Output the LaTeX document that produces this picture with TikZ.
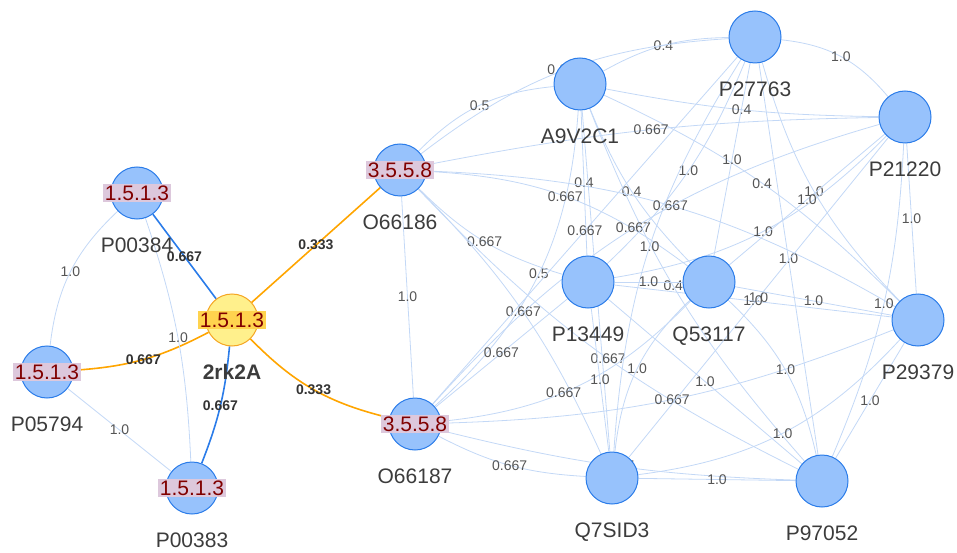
\documentclass[tikz,border=0pt]{standalone}
\usepackage{fontspec}
\setmainfont{Liberation Sans}
\usetikzlibrary{backgrounds}

\definecolor{nodefill}{HTML}{97C2FC}
\definecolor{nodeline}{HTML}{2B7CE9}
\definecolor{edgelight}{HTML}{C3D8F6}
\definecolor{edgeblue}{HTML}{2B7CE9}
\definecolor{edgeorange}{HTML}{FFA500}
\definecolor{ecbg}{HTML}{DDC8DC}
\definecolor{ecred}{HTML}{800000}
\definecolor{seedfill}{HTML}{FFF08C}
\definecolor{seedline}{HTML}{F5A623}
\definecolor{seedbg}{HTML}{FFD34E}
\definecolor{labelgray}{HTML}{555555}
\definecolor{namegray}{HTML}{3C3C3C}

\tikzset{
  prot/.style={circle, draw=nodeline, fill=nodefill, line width=1pt,
    minimum size=52pt, inner sep=0pt},
  seed/.style={prot, draw=seedline, fill=seedfill},
  nm/.style={font=\fontsize{21}{25}\selectfont, text=namegray, inner sep=0pt, yshift=-18pt},
  ec/.style={fill=ecbg, text=ecred, font=\fontsize{21}{25}\selectfont, inner sep=1.5pt},
  ecseed/.style={ec, fill=seedbg},
  link/.style={draw=edgelight, line width=0.8pt},
  blink/.style={draw=edgeblue, line width=1.6pt},
  olink/.style={draw=edgeorange, line width=1.6pt},
  el/.style={font=\fontsize{14}{16}\selectfont, text=labelgray, inner sep=1pt},
  elb/.style={el, font=\fontsize{14}{16}\selectfont\bfseries, text=black!80},
}

\begin{document}
\begin{tikzpicture}[x=1pt, y=1pt]
    \useasboundingbox (0,0) rectangle (957,-553);

    % Proteins
    \node[prot, label={[nm]below:P00384}] (P00384) at (137,-193) {};
    \node[seed, label={[nm, font=\fontsize{21}{25}\selectfont\bfseries]below:2rk2A}] (rk2A) at (232,-320) {};
    \node[prot, label={[nm]below:P05794}] (P05794) at (47,-372) {};
    \node[prot, label={[nm]below:P00383}] (P00383) at (192,-488) {};
    \node[prot, label={[nm]below:O66186}] (O66186) at (400,-170) {};
    \node[prot, label={[nm]below:O66187}] (O66187) at (415,-424) {};
    \node[prot, label={[nm]below:A9V2C1}] (A9V2C1) at (580,-84) {};
    \node[prot, label={[nm]below:P27763}] (P27763) at (755,-37) {};
    \node[prot, label={[nm]below:P21220}] (P21220) at (905,-117) {};
    \node[prot, label={[nm]below:P13449}] (P13449) at (588,-282) {};
    \node[prot, label={[nm]below:Q53117}] (Q53117) at (709,-282) {};
    \node[prot, label={[nm]below:P29379}] (P29379) at (918,-320) {};
    \node[prot, label={[nm]below:Q7SID3}] (Q7SID3) at (612,-478) {};
    \node[prot, label={[nm]below:P97052}] (P97052) at (822,-481) {};

    % EC numbers on top of the circles
    \node[ec] (P00384ec) at (P00384) {1.5.1.3};
    \node[ecseed] (rk2Aec) at (rk2A) {1.5.1.3};
    \node[ec] (P05794ec) at (P05794) {1.5.1.3};
    \node[ec] (P00383ec) at (P00383) {1.5.1.3};
    \node[ec] (O66186ec) at (O66186) {3.5.5.8};
    \node[ec] (O66187ec) at (O66187) {3.5.5.8};

    \begin{scope}[on background layer]
    % links of the query
    \draw[blink] (P00384) -- node[elb] {0.667} (rk2A);
    \draw[olink] (P05794) to[bend right=12] node[elb] {0.667} (rk2A);
    \draw[blink] (P00383) to[bend right=8] node[elb] {0.667} (rk2A);
    \draw[olink] (rk2A) -- node[elb] {0.333} (O66186);
    \draw[olink] (rk2A) to[bend right=16] node[elb] {0.333} (O66187);

    % 1.5.1.3 group
    \draw[link] (P00384) to[bend right=20] node[el] {1.0} (P05794);
    \draw[link] (P00384) to[bend left=8] node[el] {1.0} (P00383);
    \draw[link] (P05794) -- node[el] {1.0} (P00383);

    % 3.5.5.8 pair and A9V2C1
    \draw[link] (O66186) -- node[el] {1.0} (O66187);
    \draw[link] (O66186) to[bend left=20] node[el] {0.5} (A9V2C1);
    \draw[link] (A9V2C1) to[bend left=22] node[el] {0.5} (O66187);

    % A9V2C1 to the big group
    \draw[link] (A9V2C1) to[bend left=14] node[el] {0.4} (P27763);
    \draw[link] (A9V2C1) to[bend right=5] node[el] {0.4} (P21220);
    \draw[link] (A9V2C1) -- node[el] {0.4} (P13449);
    \draw[link] (A9V2C1) to[bend right=11] node[el] {0.4} (Q53117);
    \draw[link] (A9V2C1) to[bend left=10] node[el] {0.4} (P29379);
    \draw[link] (A9V2C1) -- node[el] {0.4} (Q7SID3);
    \draw[link] (A9V2C1) to[bend right=10] node[el, pos=.47] {0.4} (P97052);

    % O66186 to the big group
    \draw[link] (O66186) to[bend left=17] node[el] {0.667} (P27763);
    \draw[link] (O66186) to[bend left=5] node[el] {0.667} (P21220);
    \draw[link] (O66186) to[bend right=14] node[el] {0.667} (P13449);
    \draw[link] (O66186) to[bend left=17] node[el] {0.667} (Q53117);
    \draw[link] (O66186) to[bend left=14] node[el] {0.667} (P29379);
    \draw[link] (O66186) to[bend left=10] node[el] {0.667} (Q7SID3);
    \draw[link] (O66186) to[bend right=10] node[el, pos=.54] {0.667} (P97052);

    % O66187 to the big group
    \draw[link] (O66187) -- node[el] {0.667} (P27763);
    \draw[link] (O66187) to[bend left=16] node[el] {0.667} (P21220);
    \draw[link] (O66187) -- node[el] {0.667} (P13449);
    \draw[link] (O66187) to[bend right=20] node[el, pos=.44] {0.667} (Q53117);
    \draw[link] (O66187) to[bend right=10] node[el] {0.667} (P29379);
    \draw[link] (O66187) to[bend right=12] node[el] {0.667} (Q7SID3);
    \draw[link] (O66187) to[bend right=6] node[el] {0.667} (P97052);

    % big group, all 1.0
    \draw[link] (P27763) to[bend left=22] node[el] {1.0} (P21220);
    \draw[link] (P27763) to[bend left=12] node[el] {1.0} (P13449);
    \draw[link] (P27763) -- node[el] {1.0} (Q53117);
    \draw[link] (P27763) to[bend right=14] node[el] {1.0} (P29379);
    \draw[link] (P27763) to[bend right=14] node[el] {1.0} (Q7SID3);
    \draw[link] (P27763) -- node[el] {1.0} (P97052);
    \draw[link] (P21220) to[bend left=18] node[el] {1.0} (P13449);
    \draw[link] (P21220) -- node[el] {1.0} (Q53117);
    \draw[link] (P21220) -- node[el] {1.0} (P29379);
    \draw[link] (P21220) -- node[el] {1.0} (Q7SID3);
    \draw[link] (P21220) to[bend left=10] node[el] {1.0} (P97052);
    \draw[link] (P13449) -- node[el] {1.0} (Q53117);
    \draw[link] (P13449) -- node[el] {1.0} (P29379);
    \draw[link] (P13449) -- node[el] {1.0} (Q7SID3);
    \draw[link] (P13449) -- node[el] {1.0} (P97052);
    \draw[link] (Q53117) -- node[el] {1.0} (P29379);
    \draw[link] (Q53117) to[bend right=20] node[el] {1.0} (Q7SID3);
    \draw[link] (Q53117) to[bend left=17] node[el] {1.0} (P97052);
    \draw[link] (P29379) to[bend left=20] node[el] {1.0} (Q7SID3);
    \draw[link] (P29379) -- node[el] {1.0} (P97052);
    \draw[link] (Q7SID3) -- node[el] {1.0} (P97052);
    \end{scope}
\end{tikzpicture}
\end{document}
